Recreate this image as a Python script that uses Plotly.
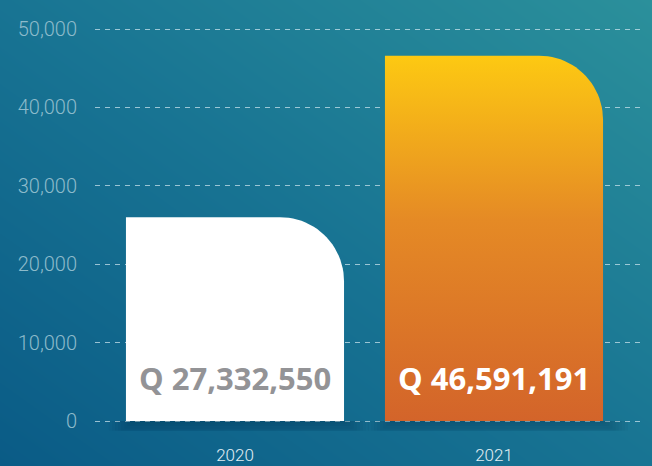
import plotly.graph_objects as go
import numpy as np

# ---- data ----
years = ["2020", "2021"]
bar_values = [26000, 46600]          # bar heights as drawn on the axis
value_labels = ["Q 27,332,550", "Q 46,591,191"]
y_ticks = [0, 10000, 20000, 30000, 40000, 50000]
y_tick_labels = ["0", "10,000", "20,000", "30,000", "40,000", "50,000"]

# ---- layout geometry ----
W, H = 652, 466
px_left, px_right = 95, 645
px_zero, px_top_tick = 421, 29
x_range = [-0.5405, 1.583]
y_range = [-1200, 51200]
bar_half = 0.421
corner_px = 64

px_per_x = (px_right - px_left) / (x_range[1] - x_range[0])
px_per_y = (px_zero - px_top_tick) / 50000.0
px_bottom = px_zero - y_range[0] * px_per_y
px_top = px_zero - y_range[1] * px_per_y

fig = go.Figure()

# background gradient (separate full-paper subplot)
fig.add_trace(go.Heatmap(
    x=[0, 1], y=[0, 1], z=[[0, 0.5], [0.5, 1]],
    colorscale=[[0, "#0A5B86"], [0.5, "#187493"], [1, "#2B909B"]],
    zsmooth="best", showscale=False, hoverinfo="skip",
    xaxis="x", yaxis="y",
))

def bar_path(i, v):
    x0, x1 = i - bar_half, i + bar_half
    rx = corner_px / px_per_x
    ry = corner_px / px_per_y
    t = np.linspace(np.pi / 2, 0, 24)
    cx, cy = x1 - rx, v - ry
    xs = [x0, x0, cx] + list(cx + rx * np.cos(t)) + [x1, x1, x0]
    ys = [0, v, v] + list(cy + ry * np.sin(t)) + [v - ry, 0, 0]
    return xs, ys

# soft shadow below bars
for i, v in enumerate(bar_values):
    for k in range(8):
        dx = (k + 1) * 0.012
        depth = (k + 1) * 2.5 / px_per_y
        fig.add_trace(go.Scatter(
            x=[i - bar_half - dx + 0.03, i + bar_half + dx, i + bar_half + dx, i - bar_half - dx + 0.03, i - bar_half - dx + 0.03],
            y=[0, 0, -depth, -depth, 0],
            fill="toself", fillcolor="rgba(0,30,60,0.035)", line=dict(width=0),
            mode="lines", hoverinfo="skip", showlegend=False,
            xaxis="x2", yaxis="y2",
        ))

# bars
xs, ys = bar_path(0, bar_values[0])
fig.add_trace(go.Scatter(
    x=xs, y=ys, fill="toself", fillcolor="#FFFFFF", mode="lines",
    line=dict(width=0), hoverinfo="skip", showlegend=False,
    xaxis="x2", yaxis="y2",
))
xs, ys = bar_path(1, bar_values[1])
fig.add_trace(go.Scatter(
    x=xs, y=ys, fill="toself", mode="lines",
    fillgradient=dict(type="vertical",
                      colorscale=[[0, "#D3642A"], [0.55, "#E58A25"], [1, "#FDC912"]]),
    line=dict(width=0), hoverinfo="skip", showlegend=False,
    xaxis="x2", yaxis="y2",
))

label_colors = ["#939396", "#FFFFFF"]
for i, (lab, col) in enumerate(zip(value_labels, label_colors)):
    fig.add_annotation(
        x=i, y=0, xref="x2", yref="y2", text=lab, showarrow=False,
        yanchor="middle", yshift=43,
        font=dict(family="Open Sans", size=31, color=col, weight=700),
    )

fig.update_layout(
    width=W, height=H,
    margin=dict(l=0, r=0, t=0, b=0, pad=0, autoexpand=False),
    paper_bgcolor="#0E5F86", plot_bgcolor="rgba(0,0,0,0)",
    showlegend=False,
    xaxis=dict(domain=[0, 1], range=[0, 1], visible=False, fixedrange=True),
    yaxis=dict(domain=[0, 1], range=[0, 1], visible=False, fixedrange=True),
    xaxis2=dict(
        domain=[px_left / W, px_right / W], range=x_range, anchor="y2",
        tickvals=[0, 1], ticktext=years, showgrid=False, zeroline=False,
        showline=False, ticks="", ticklabelstandoff=13, automargin=False,
        tickfont=dict(family="Roboto", size=17, color="#E3EFF4", weight=300),
    ),
    yaxis2=dict(
        domain=[1 - px_bottom / H, 1 - px_top / H], range=y_range, anchor="x2",
        tickvals=y_ticks, ticktext=y_tick_labels, automargin=False,
        showgrid=True, gridcolor="rgba(200,225,235,0.75)", gridwidth=1.2,
        griddash="5px,5px", zeroline=False, showline=False, ticks="",
        ticklabelstandoff=17,
        tickfont=dict(family="Roboto", size=20, color="#8DBBCB", weight=300),
    ),
)

fig.write_html(
    "out.html",
    config={"responsive": False, "displayModeBar": False},
    post_script="document.body.style.margin='0';document.body.style.overflow='hidden';",
)
